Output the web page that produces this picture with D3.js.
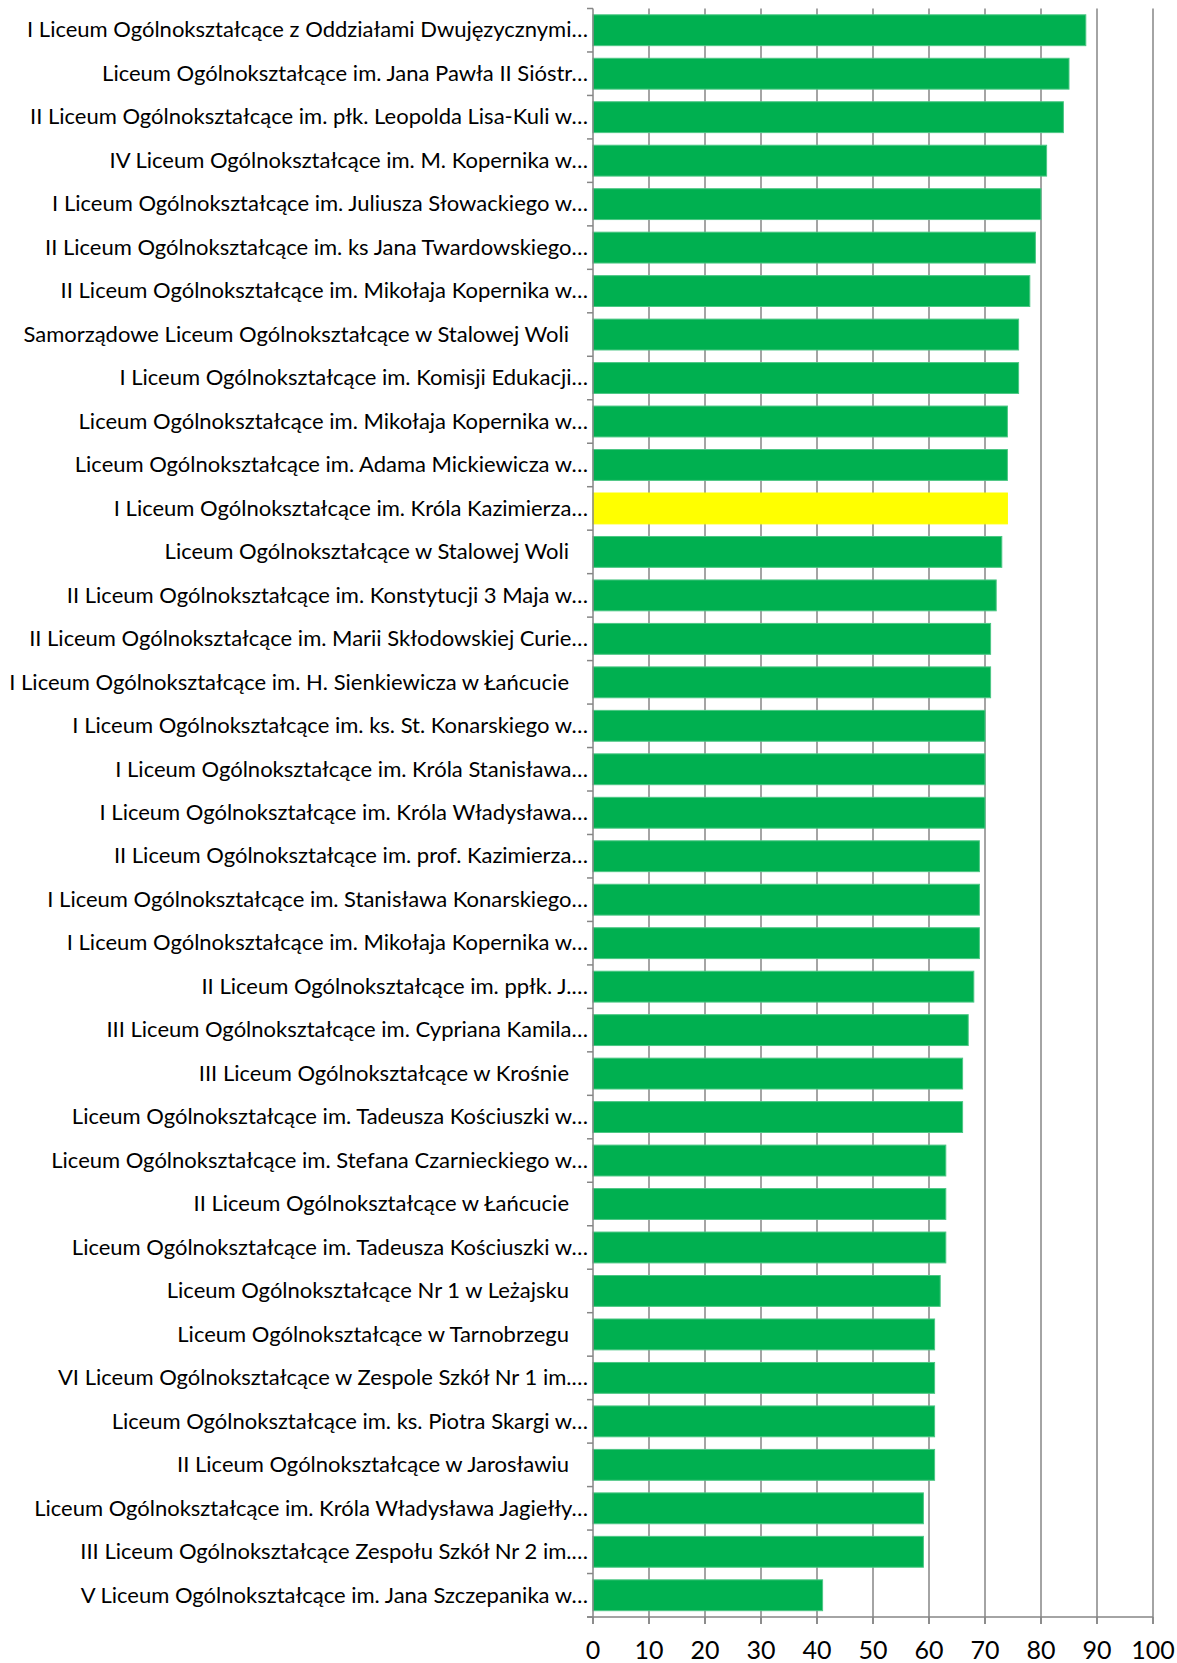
<!DOCTYPE html>
<html>
<head>
<meta charset="utf-8">
<script src="https://d3js.org/d3.v7.min.js"></script>
<style>
body{margin:0;background:#fff;}
text{font-family:Lato, "Open Sans", sans-serif;fill:#000;}
</style>
</head>
<body>
<svg width="1177" height="1663"></svg>
<script>
// szkoly i wyniki (procent), od gory
var schools = [
 'I Liceum Ogólnokształcące z Oddziałami Dwujęzycznymi…',
 'Liceum Ogólnokształcące im. Jana Pawła II Sióstr…',
 'II Liceum Ogólnokształcące im. płk. Leopolda Lisa-Kuli w…',
 'IV Liceum Ogólnokształcące im. M. Kopernika w…',
 'I Liceum Ogólnokształcące im. Juliusza Słowackiego w…',
 'II Liceum Ogólnokształcące im. ks Jana Twardowskiego…',
 'II Liceum Ogólnokształcące im. Mikołaja Kopernika w…',
 'Samorządowe Liceum Ogólnokształcące w Stalowej Woli',
 'I Liceum Ogólnokształcące im. Komisji Edukacji…',
 'Liceum Ogólnokształcące im. Mikołaja Kopernika w…',
 'Liceum Ogólnokształcące im. Adama Mickiewicza w…',
 'I Liceum Ogólnokształcące im. Króla Kazimierza…',
 'Liceum Ogólnokształcące w Stalowej Woli',
 'II Liceum Ogólnokształcące im. Konstytucji 3 Maja w…',
 'II Liceum Ogólnokształcące im. Marii Skłodowskiej Curie…',
 'I Liceum Ogólnokształcące im. H. Sienkiewicza w Łańcucie',
 'I Liceum Ogólnokształcące im. ks. St. Konarskiego w…',
 'I Liceum Ogólnokształcące im. Króla Stanisława…',
 'I Liceum Ogólnokształcące im. Króla Władysława…',
 'II Liceum Ogólnokształcące im. prof. Kazimierza…',
 'I Liceum Ogólnokształcące im. Stanisława Konarskiego…',
 'I Liceum Ogólnokształcące im. Mikołaja Kopernika w…',
 'II Liceum Ogólnokształcące im. ppłk. J.…',
 'III Liceum Ogólnokształcące im. Cypriana Kamila…',
 'III Liceum Ogólnokształcące w Krośnie',
 'Liceum Ogólnokształcące im. Tadeusza Kościuszki w…',
 'Liceum Ogólnokształcące im. Stefana Czarnieckiego w…',
 'II Liceum Ogólnokształcące w Łańcucie',
 'Liceum Ogólnokształcące im. Tadeusza Kościuszki w…',
 'Liceum Ogólnokształcące Nr 1 w Leżajsku',
 'Liceum Ogólnokształcące w Tarnobrzegu',
 'VI Liceum Ogólnokształcące w Zespole Szkół Nr 1 im.…',
 'Liceum Ogólnokształcące im. ks. Piotra Skargi w…',
 'II Liceum Ogólnokształcące w Jarosławiu',
 'Liceum Ogólnokształcące im. Króla Władysława Jagiełły…',
 'III Liceum Ogólnokształcące Zespołu Szkół Nr 2 im.…',
 'V Liceum Ogólnokształcące im. Jana Szczepanika w…'
];
var scores = [88,85,84,81,80,79,78,76,76,74,74,74,73,72,71,71,70,70,70,69,69,69,68,67,66,66,63,63,63,62,61,61,61,61,59,59,41];
var highlight = 11; // Krola Kazimierza
var xTicks = [0,10,20,30,40,50,60,70,80,90,100];

var svg = d3.select('svg');
var pLeft = 593, pRight = 1153, pTop = 8.5, pBottom = 1617;

var x = d3.scaleLinear().domain([0,100]).range([pLeft,pRight]);
var y = d3.scaleBand().domain(d3.range(schools.length)).range([pTop,pBottom]).paddingInner(0.29).paddingOuter(0.145);

// siatka
svg.append('g').selectAll('line').data(xTicks.slice(1)).enter().append('line')
  .attr('x1',function(d){return x(d);}).attr('x2',function(d){return x(d);})
  .attr('y1',pTop).attr('y2',pBottom+7)
  .attr('stroke','#868686').attr('stroke-width',1.5);

// slupki
svg.append('g').selectAll('rect').data(scores).enter().append('rect')
  .attr('x',x(0)).attr('y',function(d,i){return y(i);})
  .attr('width',function(d){return x(d)-x(0);})
  .attr('height',y.bandwidth())
  .attr('fill',function(d,i){return i==highlight?'#ffff00':'#00b050';})
  .attr('stroke',function(d,i){return i==highlight?'#ffff00':'#4cc784';})
  .attr('stroke-width',1);

// os y
svg.append('line').attr('x1',pLeft).attr('x2',pLeft).attr('y1',pTop).attr('y2',pBottom+7)
  .attr('stroke','#868686').attr('stroke-width',1.5);
var bounds = d3.range(schools.length).map(function(i){return y(i)-y.step()*y.paddingInner()/2;});
bounds.push(pBottom);
svg.append('g').selectAll('line').data(bounds).enter().append('line')
  .attr('x1',pLeft-6).attr('x2',pLeft).attr('y1',function(d){return d;}).attr('y2',function(d){return d;})
  .attr('stroke','#868686').attr('stroke-width',1.5);

// os x
svg.append('line').attr('x1',pLeft-6).attr('x2',pRight).attr('y1',pBottom).attr('y2',pBottom)
  .attr('stroke','#868686').attr('stroke-width',1.5);
svg.append('g').selectAll('line').data(xTicks).enter().append('line')
  .attr('x1',function(d){return x(d);}).attr('x2',function(d){return x(d);})
  .attr('y1',pBottom).attr('y2',pBottom+7)
  .attr('stroke','#868686').attr('stroke-width',1.5);
svg.append('g').selectAll('text').data(xTicks).enter().append('text')
  .attr('x',function(d){return x(d);}).attr('y',1659)
  .attr('text-anchor','middle').attr('font-size',25)
  .text(function(d){return d;});

// etykiety
svg.append('g').selectAll('text').data(schools).enter().append('text')
  .attr('x',function(d){return d.slice(-1)=='…'?588:569;})
  .attr('y',function(d,i){return y(i)+y.bandwidth()/2;})
  .attr('dy','0.33em').attr('text-anchor','end').attr('font-size',22)
  .text(function(d){return d;});
</script>
</body>
</html>
